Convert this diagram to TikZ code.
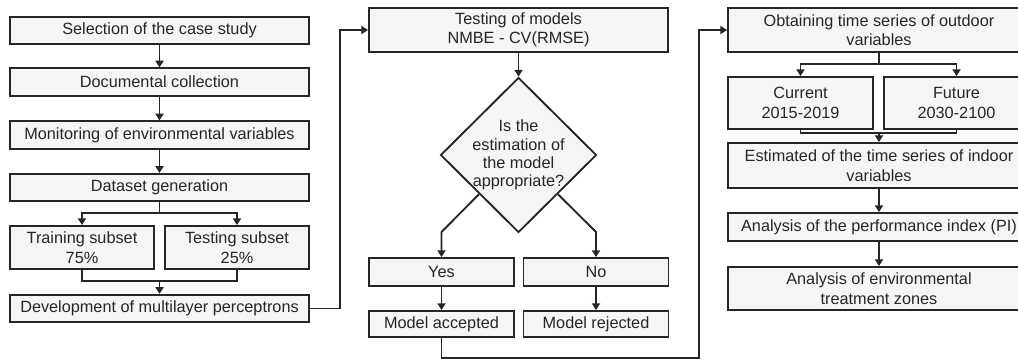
\documentclass[tikz,border=0pt]{standalone}
\usepackage{fontspec}
\setmainfont{Liberation Sans}
\usetikzlibrary{shapes.geometric,arrows.meta}
\definecolor{inkgray}{RGB}{38,38,38}
\definecolor{boxgray}{RGB}{245,245,245}

\begin{document}
\begin{tikzpicture}[x=0.75pt, y=-0.75pt,
    box/.style={draw=inkgray, fill=boxgray, text=inkgray, line width=1.4pt,
        align=center, inner sep=1pt, font=\fontsize{12.2}{14.6}\selectfont},
    widebox/.style={box, minimum width=224.25pt, minimum height=20.5pt},
    halfbox/.style={box, minimum width=108.75pt},
    rightbox/.style={box, minimum width=226.5pt},
    decision/.style={box, shape=diamond, aspect=1, inner sep=-5pt,
        minimum width=117pt, minimum height=116.25pt,
        font=\fontsize{12.2}{13.7}\selectfont},
    link/.style={draw=inkgray, line width=1.4pt},
    flow/.style={link, -{Triangle[width=6pt,length=5pt]}}]
    \useasboundingbox (0,0) rectangle (1018,361);
    \clip (0,0) rectangle (1018,361);

    % left column
    \node[widebox] (sel) at (159.5, 30.5) {Selection of the case study};
    \node[widebox] (doc) at (159.5, 82) {Documental collection};
    \node[widebox] (mon) at (159.5, 135) {Monitoring of environmental variables};
    \node[widebox] (data) at (159.5, 187.5) {Dataset generation};
    \node[box, minimum width=108pt, minimum height=32.25pt] (train) at (82, 247.5) {Training subset\\75\%};
    \node[box, minimum width=108pt, minimum height=32.25pt] (test) at (237, 247.5) {Testing subset\\25\%};
    \node[widebox] (dev) at (159.5, 308.5) {Development of multilayer perceptrons};
    \coordinate (split1) at (159.5, 213);
    \coordinate (merge1) at (159.5, 281);
    \coordinate (rise1) at (340, 30);

    \draw[flow] (sel) -- (doc);
    \draw[flow] (doc) -- (mon);
    \draw[flow] (mon) -- (data);
    \draw[link] (data) -- (split1);
    \draw[flow] (split1) -| (train);
    \draw[flow] (split1) -| (test);
    \draw[link] (train) |- (merge1);
    \draw[link] (test) |- (merge1);
    \draw[flow] (merge1) -- (dev);

    % middle column
    \node[box, minimum width=224.25pt, minimum height=33pt] (tm) at (518.5, 30) {Testing of models\\NMBE - CV(RMSE)};
    \node[decision] (dia) at (518.5, 155) {Is the\\estimation of\\the model\\appropriate?};
    \node[halfbox, minimum height=21pt] (yes) at (441.5, 272) {Yes};
    \node[halfbox, minimum height=21pt] (no) at (596, 272) {No};
    \node[halfbox, minimum height=19.5pt] (acc) at (441.5, 324) {Model accepted};
    \node[halfbox, minimum height=19.5pt] (rej) at (596, 324) {Model rejected};
    \coordinate (kneeY) at (441.5, 232);
    \coordinate (kneeN) at (596, 232);
    \coordinate (low2) at (699, 358);
    \coordinate (rise2) at (699, 30);

    \draw[flow] (dev.east) -| (rise1) -- (tm.west);
    \draw[flow] (tm) -- (dia);
    \draw[flow] (dia.south west) -- (kneeY) -- (yes);
    \draw[flow] (dia.south east) -- (kneeN) -- (no);
    \draw[flow] (yes) -- (acc);
    \draw[flow] (no) -- (rej);

    % right column
    \node[rightbox, minimum height=33pt] (obt) at (879, 30) {Obtaining time series of outdoor\\variables};
    \node[halfbox, minimum height=39pt] (cur) at (800.5, 103) {Current\\2015-2019};
    \node[halfbox, minimum height=39pt] (fut) at (956.5, 103) {Future\\2030-2100};
    \node[rightbox, minimum height=33.75pt] (est) at (879, 165.5) {Estimated of the time series of indoor\\variables};
    \node[rightbox, minimum height=21pt] (pi) at (879, 227) {Analysis of the performance index (PI)};
    \node[rightbox, minimum height=32.25pt] (env) at (879, 288.5) {Analysis of environmental\\treatment zones};
    \coordinate (split2) at (879, 64);
    \coordinate (merge2) at (879, 133);

    \draw[flow] (acc) |- (low2) -- (rise2) -- (obt.west);
    \draw[link] (obt) -- (split2);
    \draw[flow] (split2) -| (cur);
    \draw[flow] (split2) -| (fut);
    \draw[link] (cur) |- (merge2);
    \draw[link] (fut) |- (merge2);
    \draw[flow] (merge2) -- (est);
    \draw[flow] (est) -- (pi);
    \draw[flow] (pi) -- (env);
\end{tikzpicture}
\end{document}
